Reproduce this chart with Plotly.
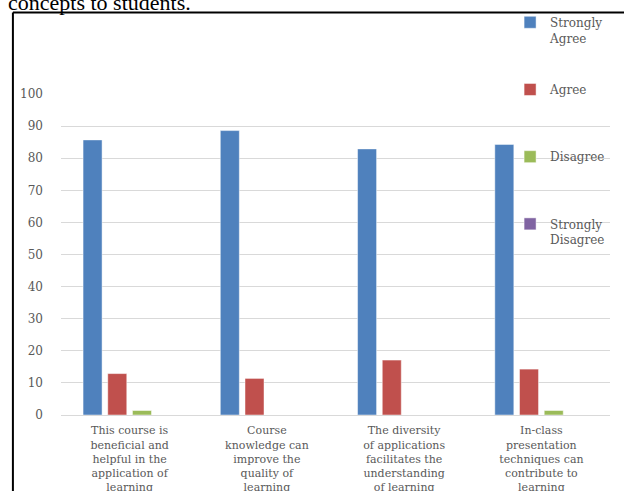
import plotly.graph_objects as go

# Survey statements (category axis) and response shares in percent
categories = [
    "This course is<br>beneficial and<br>helpful in the<br>application of<br>learning",
    "Course<br>knowledge can<br>improve the<br>quality of<br>learning",
    "The diversity<br>of applications<br>facilitates the<br>understanding<br>of learning",
    "In-class<br>presentation<br>techniques can<br>contribute to<br>learning",
]
strongly_agree = [85.7, 88.6, 82.9, 84.3]
agree = [12.9, 11.4, 17.1, 14.3]
disagree = [1.4, 0, 0, 1.4]
strongly_disagree = [0, 0, 0, 0]

# legend entries all take two text rows so the entries sit evenly spaced
series_names = ["Strongly<br>Agree", "Agree<br> ", "Disagree<br> ", "Strongly<br>Disagree"]
series_values = [strongly_agree, agree, disagree, strongly_disagree]
series_colors = ["#4F81BD", "#C0504D", "#9BBB59", "#8064A2"]

y_ticks = [0, 10, 20, 30, 40, 50, 60, 70, 80, 90, 100]

text_gray = "#595959"
serif = "DejaVu Serif"

fig = go.Figure()
for name, vals, color in zip(series_names, series_values, series_colors):
    fig.add_trace(go.Bar(
        x=categories,
        y=vals,
        name=name,
        legendgroup=name,
        marker=dict(color=color, line=dict(color="rgba(255,255,255,0.6)", width=0.8)),
    ))

fig.update_layout(
    width=624,
    height=491,
    margin=dict(l=60.6, r=14.25, t=94, b=76.3, autoexpand=False),
    paper_bgcolor="white",
    plot_bgcolor="white",
    barmode="group",
    bargap=0.28,
    bargroupgap=0.23,
    showlegend=True,
    legend=dict(
        x=0.818, xanchor="left",
        y=1.268, yanchor="top",
        valign="top",
        tracegroupgap=33,
        maxheight=480,
        bgcolor="rgba(0,0,0,0)",
        font=dict(family=serif, size=12, color=text_gray),
    ),
    xaxis=dict(
        showgrid=False,
        showline=True,
        linecolor="#d9d9d9",
        linewidth=1,
        ticks="",
        ticklabelstandoff=5,
        tickfont=dict(family=serif, size=11, color=text_gray),
        tickangle=0,
        range=[-0.5, 3.5],
    ),
    yaxis=dict(
        range=[0, 100],
        tickvals=y_ticks,
        showgrid=True,
        gridcolor="#d9d9d9",
        gridwidth=1,
        zeroline=False,
        showline=False,
        ticks="",
        ticklabelstandoff=17,
        tickfont=dict(family=serif, size=12, color=text_gray),
    ),
    shapes=[
        # frame around the chart object
        dict(type="line", xref="paper", yref="paper",
             x0=-0.0876, x1=-0.0876, y0=1.2541, y1=-0.3,
             line=dict(color="black", width=2), layer="above"),
        dict(type="line", xref="paper", yref="paper",
             x0=-0.0876, x1=1.1, y0=1.2541, y1=1.2541,
             line=dict(color="black", width=2), layer="above"),
    ],
    annotations=[
        dict(text="concepts to students.", xref="paper", yref="paper",
             x=-0.1, y=1.2837, xanchor="left", yanchor="middle",
             showarrow=False,
             font=dict(family="Liberation Serif", size=22, color="black")),
    ],
)

fig.write_html("out.html")
